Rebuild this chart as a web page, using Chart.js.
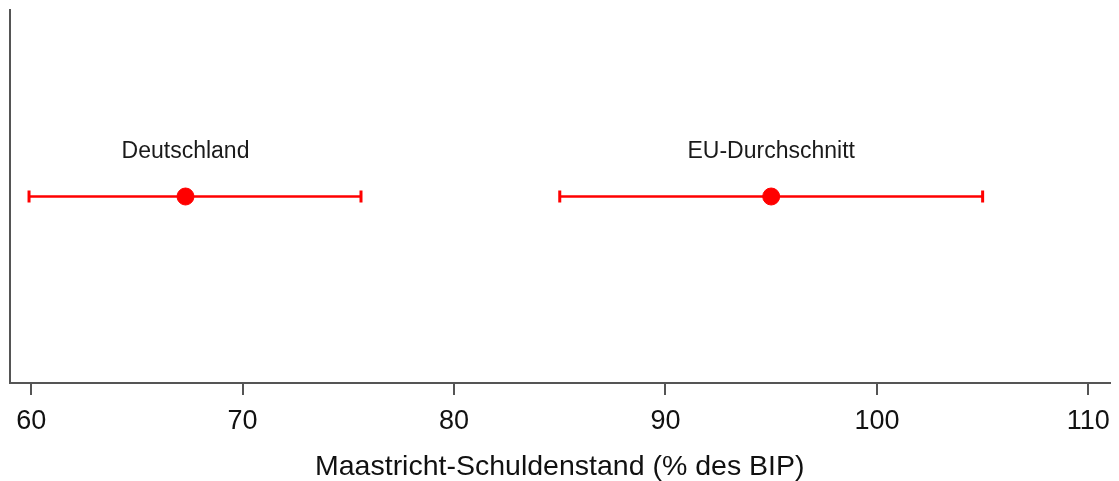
<!DOCTYPE html>
<html><head><meta charset="utf-8">
<script src="https://cdn.jsdelivr.net/npm/chart.js@4"></script>
<style>html,body{margin:0;padding:0;background:#fff}#w{width:1119px;height:481px}</style>
</head><body><div id="w"><canvas id="c" width="1119" height="481"></canvas></div>
<script>
const categories = ["Deutschland", "EU-Durchschnitt"];
const pointValues = [67.3, 95.0];
const lowerValues = [59.9, 85.0];
const upperValues = [75.6, 105.0];
const rowY = [0.5, 0.5];
const labelY = [0.62, 0.62];
const xTicks = [60, 70, 80, 90, 100, 110];
const xTitle = "Maastricht-Schuldenstand (% des BIP)";

const errPlugin = {
  id: 'err',
  beforeDatasetsDraw(chart) {
    const {ctx, scales: {x, y}} = chart;
    ctx.save();
    ctx.strokeStyle = '#ff0000';
    for (let i = 0; i < categories.length; i++) {
      const yy = y.getPixelForValue(rowY[i]);
      const x1 = x.getPixelForValue(lowerValues[i]);
      const x2 = x.getPixelForValue(upperValues[i]);
      ctx.lineWidth = 2.5;
      ctx.beginPath();
      ctx.moveTo(x1, yy); ctx.lineTo(x2, yy);
      ctx.stroke();
      ctx.lineWidth = 3;
      ctx.beginPath();
      ctx.moveTo(x1, yy - 6); ctx.lineTo(x1, yy + 6);
      ctx.moveTo(x2, yy - 6); ctx.lineTo(x2, yy + 6);
      ctx.stroke();
    }
    ctx.restore();
  },
  afterDatasetsDraw(chart) {
    const {ctx, scales: {x, y}} = chart;
    ctx.save();
    ctx.fillStyle = '#1a1a1a';
    ctx.font = '23px "Liberation Sans", Arial, sans-serif';
    ctx.textAlign = 'center';
    ctx.textBaseline = 'middle';
    for (let i = 0; i < categories.length; i++) {
      ctx.fillText(categories[i], x.getPixelForValue(pointValues[i]), y.getPixelForValue(labelY[i]));
    }
    ctx.restore();
  }
};

new Chart(document.getElementById('c'), {
  type: 'scatter',
  data: {
    datasets: [{
      data: pointValues.map((v, i) => ({x: v, y: rowY[i]})),
      backgroundColor: '#ff0000',
      borderColor: '#ff0000',
      pointRadius: 8.5,
      pointHoverRadius: 8.5
    }]
  },
  options: {
    responsive: false,
    animation: false,
    events: [],
    layout: {padding: {left: 2, right: 8, top: 10, bottom: 0}},
    plugins: {legend: {display: false}, tooltip: {enabled: false}},
    scales: {
      x: {
        type: 'linear', min: 59, max: 111,
        afterBuildTicks(axis) { axis.ticks = xTicks.map(v => ({value: v})); },
        afterFit(axis) { axis.height = 98; axis.paddingRight = 0; },
        grid: {display: true, drawOnChartArea: false, drawTicks: true, tickLength: 12, color: '#555', lineWidth: 2},
        border: {display: true, color: '#555', width: 2},
        ticks: {color: '#111', font: {family: '"Liberation Sans", Arial, sans-serif', size: 27}, padding: 10, maxRotation: 0, autoSkip: false},
        title: {display: true, text: xTitle, color: '#111', font: {family: '"Liberation Sans", Arial, sans-serif', size: 28.5, lineHeight: 1.0}, padding: {top: 1, bottom: 0}}
      },
      y: {
        min: 0, max: 1,
        grid: {display: false},
        border: {display: true, color: '#555', width: 2},
        ticks: {display: false}
      }
    }
  },
  plugins: [errPlugin]
});
</script></body></html>
